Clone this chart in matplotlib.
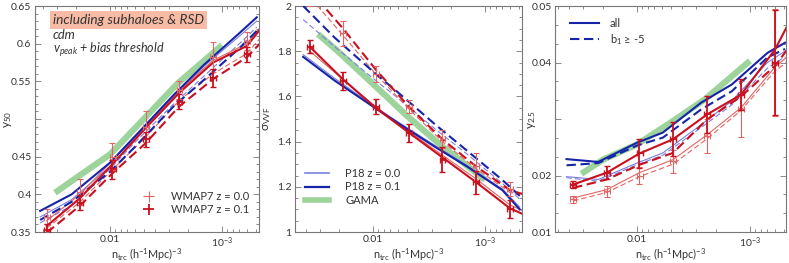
import numpy as np
import matplotlib
matplotlib.use("Agg")
import matplotlib.pyplot as plt
from matplotlib.ticker import FixedLocator, FixedFormatter, MultipleLocator, LogLocator, NullFormatter
from matplotlib.lines import Line2D

plt.rcParams['font.family'] = ['Lato', 'DejaVu Sans']
plt.rcParams['mathtext.default'] = 'regular'
plt.rcParams['mathtext.fontset'] = 'custom'
plt.rcParams['mathtext.rm'] = 'Lato'
plt.rcParams['mathtext.it'] = 'Lato:italic'

# ---------------- data ----------------
n_blue = [0.042, 0.022, 0.01, 0.0059, 0.0027, 0.00145, 0.0007, 0.00049]
n_red = [0.0367, 0.0185, 0.0095, 0.0048, 0.0024, 0.0012, 0.0006, 0.00044]
n_err = [0.0367, 0.0185, 0.0095, 0.0048, 0.0024, 0.0012, 0.0006]
n_gama = [0.031, 0.02, 0.01, 0.005, 0.0025, 0.001]

# panel 1: y50
y50_p18_z00_all = [0.370, 0.393, 0.437, 0.475, 0.528, 0.570, 0.610, 0.630]
y50_p18_z01_all = [0.378, 0.400, 0.442, 0.478, 0.532, 0.572, 0.614, 0.635]
y50_p18_z00_b1 = [0.362, 0.385, 0.434, 0.470, 0.520, 0.557, 0.600, 0.622]
y50_p18_z01_b1 = [0.366, 0.390, 0.430, 0.464, 0.517, 0.552, 0.594, 0.617]
y50_w7_z00_all = [0.365, 0.400, 0.445, 0.490, 0.538, 0.578, 0.600, 0.625]
y50_w7_z01_all = [0.358, 0.395, 0.440, 0.488, 0.535, 0.575, 0.597, 0.622]
y50_w7_z00_b1 = [0.355, 0.390, 0.433, 0.476, 0.525, 0.560, 0.587, 0.610]
y50_w7_z01_b1 = [0.349, 0.385, 0.428, 0.468, 0.517, 0.553, 0.582, 0.603]
y50_err_z00 = [0.370, 0.403, 0.450, 0.490, 0.539, 0.582, 0.603]
y50_errbar_z00 = [0.010, 0.017, 0.018, 0.020, 0.012, 0.020, 0.012]
y50_err_z01 = [0.353, 0.389, 0.433, 0.473, 0.523, 0.554, 0.586]
y50_errbar_z01 = [0.008, 0.010, 0.012, 0.010, 0.010, 0.012, 0.010]
y50_gama = [0.402, 0.422, 0.453, 0.500, 0.547, 0.598]

# panel 2: sigma_VVF
sig_p18_z00_all = [1.785, 1.68, 1.56, 1.485, 1.378, 1.295, 1.19, 1.11]
sig_p18_z01_all = [1.775, 1.67, 1.555, 1.48, 1.372, 1.29, 1.185, 1.10]
sig_p18_z00_b1 = [1.94, 1.82, 1.68, 1.59, 1.45, 1.345, 1.215, 1.145]
sig_p18_z01_b1 = [2.00, 1.86, 1.71, 1.615, 1.47, 1.36, 1.23, 1.16]
sig_w7_z00_all = [1.80, 1.675, 1.555, 1.445, 1.34, 1.235, 1.12, 1.09]
sig_w7_z01_all = [1.82, 1.675, 1.55, 1.44, 1.33, 1.22, 1.105, 1.075]
sig_w7_z00_b1 = [2.04, 1.87, 1.70, 1.545, 1.40, 1.28, 1.175, 1.155]
sig_w7_z01_b1 = [2.07, 1.90, 1.72, 1.555, 1.41, 1.29, 1.185, 1.165]
sig_err_z00 = [2.05, 1.88, 1.70, 1.555, 1.41, 1.29, 1.19]
sig_errbar_z00 = [0.05, 0.055, 0.035, 0.03, 0.04, 0.06, 0.03]
sig_err_z01 = [1.82, 1.67, 1.555, 1.44, 1.32, 1.22, 1.10]
sig_errbar_z01 = [0.03, 0.04, 0.035, 0.04, 0.055, 0.05, 0.04]
sig_gama = [1.876, 1.794, 1.655, 1.515, 1.385, 1.231]

# panel 3: y2.5
y25_p18_z00_all = [0.0198, 0.0193, 0.0222, 0.0240, 0.0290, 0.0332, 0.0400, 0.0420]
y25_p18_z01_all = [0.0229, 0.0224, 0.0258, 0.0276, 0.0329, 0.0361, 0.0417, 0.0435]
y25_p18_z00_b1 = [0.0196, 0.0190, 0.0219, 0.0236, 0.0285, 0.0325, 0.0390, 0.0410]
y25_p18_z01_b1 = [0.0218, 0.0222, 0.0253, 0.0267, 0.0317, 0.0349, 0.0409, 0.0424]
y25_w7_z00_all = [0.0160, 0.0175, 0.0205, 0.0228, 0.0272, 0.0320, 0.0392, 0.0415]
y25_w7_z01_all = [0.0184, 0.0205, 0.0239, 0.0264, 0.0308, 0.0343, 0.0423, 0.0475]
y25_w7_z00_b1 = [0.0155, 0.0170, 0.0198, 0.0220, 0.0265, 0.0315, 0.0385, 0.0405]
y25_w7_z01_b1 = [0.0178, 0.0193, 0.0219, 0.0240, 0.0299, 0.0340, 0.0394, 0.0430]
y25_err_z00 = [0.0158, 0.0172, 0.0200, 0.0225, 0.0270, 0.0318, 0.0400]
y25_errbar_z00 = [0.0006, 0.0010, 0.0015, 0.0020, 0.0030, 0.0050, 0.0095]
y25_err_z01 = [0.0184, 0.0205, 0.0239, 0.0264, 0.0308, 0.0343, 0.0400]
y25_errbar_z01 = [0.0007, 0.0012, 0.0025, 0.0030, 0.0033, 0.0027, 0.0093]
y25_gama = [0.0203, 0.0228, 0.0255, 0.0294, 0.0335, 0.0403]

xticks = [0.01, 0.001]
xticklabels = ['0.01', '$10^{-3}$']

# ---------------- style ----------------
C_BLUE = '#1624a8'
C_LBLUE = '#7a80e0'
C_RED = '#c8101e'
C_LRED = '#e46464'
C_GREEN = '#9cd49c'
C_TXT = '#333333'
C_AX = '#777777'

W, H = 789, 263
fig = plt.figure(figsize=(W / 100, H / 100), dpi=100)

boxes = [(35, 259), (295, 522), (555, 786)]
top, bot = 6, 232
axes = []
for (l, r) in boxes:
    ax = fig.add_axes([l / W, 1 - bot / H, (r - l) / W, (bot - top) / H])
    axes.append(ax)

xlims = [(0.0467, 0.000468), (0.0497, 0.000468), (0.0531, 0.00048)]

DASH = (4.5, 2.2)


def draw(ax, p18, w7, err00, e00, err01, e01, gama):
    ax.plot(n_gama, gama, color=C_GREEN, lw=4.5, solid_capstyle='butt', zorder=1)
    z00_all, z01_all, z00_b1, z01_b1 = p18
    ax.plot(n_blue, z00_all, color=C_LBLUE, lw=0.8, zorder=2)
    ax.plot(n_blue, z00_b1, color=C_LBLUE, lw=0.8, dashes=(5, 2.5), zorder=2)
    ax.plot(n_blue, z01_all, color=C_BLUE, lw=1.5, zorder=3)
    ax.plot(n_blue, z01_b1, color=C_BLUE, lw=1.5, dashes=DASH, zorder=3)
    r00_all, r01_all, r00_b1, r01_b1 = w7
    ax.plot(n_red, r00_all, color=C_LRED, lw=0.8, zorder=2)
    ax.plot(n_red, r00_b1, color=C_LRED, lw=0.8, dashes=(5, 2.5), zorder=2)
    ax.plot(n_red, r01_all, color=C_RED, lw=1.5, zorder=3)
    ax.plot(n_red, r01_b1, color=C_RED, lw=1.5, dashes=DASH, zorder=3)
    xe = [0.06 * v for v in n_err]
    ax.errorbar(n_err, err00, yerr=e00, xerr=xe, fmt='none', ecolor=C_LRED,
                elinewidth=0.8, capsize=2, capthick=0.8, zorder=4)
    ax.errorbar(n_err, err01, yerr=e01, xerr=xe, fmt='none', ecolor=C_RED,
                elinewidth=1.3, capsize=2, capthick=1.0, zorder=4)


draw(axes[0], (y50_p18_z00_all, y50_p18_z01_all, y50_p18_z00_b1, y50_p18_z01_b1),
     (y50_w7_z00_all, y50_w7_z01_all, y50_w7_z00_b1, y50_w7_z01_b1),
     y50_err_z00, y50_errbar_z00, y50_err_z01, y50_errbar_z01, y50_gama)
draw(axes[1], (sig_p18_z00_all, sig_p18_z01_all, sig_p18_z00_b1, sig_p18_z01_b1),
     (sig_w7_z00_all, sig_w7_z01_all, sig_w7_z00_b1, sig_w7_z01_b1),
     sig_err_z00, sig_errbar_z00, sig_err_z01, sig_errbar_z01, sig_gama)
draw(axes[2], (y25_p18_z00_all, y25_p18_z01_all, y25_p18_z00_b1, y25_p18_z01_b1),
     (y25_w7_z00_all, y25_w7_z01_all, y25_w7_z00_b1, y25_w7_z01_b1),
     y25_err_z00, y25_errbar_z00, y25_err_z01, y25_errbar_z01, y25_gama)

ylims = [(0.35, 0.65), (1.0, 2.0), (0.01, 0.05)]
yticks = [[0.35, 0.4, 0.45, 0.5, 0.55, 0.6, 0.65], [1.0, 1.2, 1.4, 1.6, 1.8, 2.0],
          [0.01, 0.02, 0.03, 0.04, 0.05]]
ytlabels = [['0.35', '0.4', '0.45', '', '0.55', '0.6', '0.65'],
            ['1', '1.2', '1.4', '1.6', '1.8', '2'],
            ['0.01', '0.02', '', '0.04', '0.05']]
yminor = [0.01, 0.05, 0.01 / 3]

for i, ax in enumerate(axes):
    ax.set_xscale('log')
    ax.set_xlim(*xlims[i])
    ax.set_ylim(*ylims[i])
    ax.xaxis.set_major_locator(FixedLocator(xticks))
    ax.xaxis.set_major_formatter(FixedFormatter(xticklabels))
    ax.xaxis.set_minor_locator(LogLocator(base=10, subs=np.arange(2, 10)))
    ax.xaxis.set_minor_formatter(NullFormatter())
    ax.yaxis.set_major_locator(FixedLocator(yticks[i]))
    ax.yaxis.set_major_formatter(FixedFormatter(ytlabels[i]))
    ax.yaxis.set_minor_locator(MultipleLocator(yminor[i]))
    ax.tick_params(which='both', direction='in', top=True, right=True,
                   colors=C_AX, labelcolor=C_TXT, labelsize=7.5, width=0.6)
    ax.tick_params(which='major', length=4, pad=2.5)
    ax.tick_params(which='minor', length=2)
    for s in ax.spines.values():
        s.set_color(C_AX)
        s.set_linewidth(0.8)
    ax.set_xlabel('n$_{trc}$ (h$^{-1}$Mpc)$^{-3}$', fontsize=7.8, color=C_TXT)
    ax.xaxis.set_label_coords(0.5, -0.066)

axes[0].set_ylabel('y$_{50}$', fontsize=8.5, color=C_TXT, labelpad=0)
axes[0].yaxis.set_label_coords(-0.095, 0.5)
axes[1].set_ylabel(r'$\sigma_{VVF}$', fontsize=8.5, color=C_TXT, labelpad=0)
axes[1].yaxis.set_label_coords(-0.097, 0.5)
axes[2].set_ylabel('y$_{2.5}$', fontsize=8.5, color=C_TXT, labelpad=0)
axes[2].yaxis.set_label_coords(-0.074, 0.5)

# annotations panel 1
ax = axes[0]
ax.text(0.08, 0.938, 'including subhaloes & RSD', transform=ax.transAxes, fontsize=9.8,
        style='italic', color=C_TXT, va='center', ha='left',
        bbox=dict(boxstyle='square,pad=0.2', fc='#f7bba6', ec='none'))
ax.text(0.08, 0.87, 'cdm', transform=ax.transAxes, fontsize=9.3, style='italic',
        color=C_TXT, va='center')
ax.text(0.08, 0.805, 'v$_{peak}$ + bias threshold', transform=ax.transAxes, fontsize=9.0,
        style='italic', color=C_TXT, va='center')

# legends
h00 = axes[0].errorbar([], [], yerr=[], xerr=[], fmt='none', ecolor=C_LRED, elinewidth=0.8,
                       capsize=2, capthick=0.8)
h01 = axes[0].errorbar([], [], yerr=[], xerr=[], fmt='none', ecolor=C_RED, elinewidth=1.3,
                       capsize=2, capthick=1.0)
leg = axes[0].legend([h00, h01], ['WMAP7 z = 0.0', 'WMAP7 z = 0.1'], loc='lower right',
                     bbox_to_anchor=(1.0, 0.03), frameon=False, fontsize=8, handlelength=2.2,
                     handletextpad=0.9, labelspacing=0.2)
for t in leg.get_texts():
    t.set_color(C_TXT)

lg2 = axes[1].legend([Line2D([], [], color=C_LBLUE, lw=1.2), Line2D([], [], color=C_BLUE, lw=1.6),
                      Line2D([], [], color=C_GREEN, lw=4)],
                     ['P18 z = 0.0', 'P18 z = 0.1', 'GAMA'], loc='lower left',
                     bbox_to_anchor=(0.0, 0.07), frameon=False, fontsize=8, handlelength=2.2,
                     handletextpad=1.4, labelspacing=0.25)
for t in lg2.get_texts():
    t.set_color(C_TXT)

lg3 = axes[2].legend([Line2D([], [], color=C_BLUE, lw=1.5),
                      Line2D([], [], color=C_BLUE, lw=1.5, dashes=DASH)],
                     ['all', 'b$_1$ ≥ -5'], loc='upper left', bbox_to_anchor=(0.02, 0.99),
                     frameon=False, fontsize=8, handlelength=2.6, handletextpad=1.0,
                     labelspacing=0.25)
for t in lg3.get_texts():
    t.set_color(C_TXT)

fig.savefig('out.png', dpi=100)
